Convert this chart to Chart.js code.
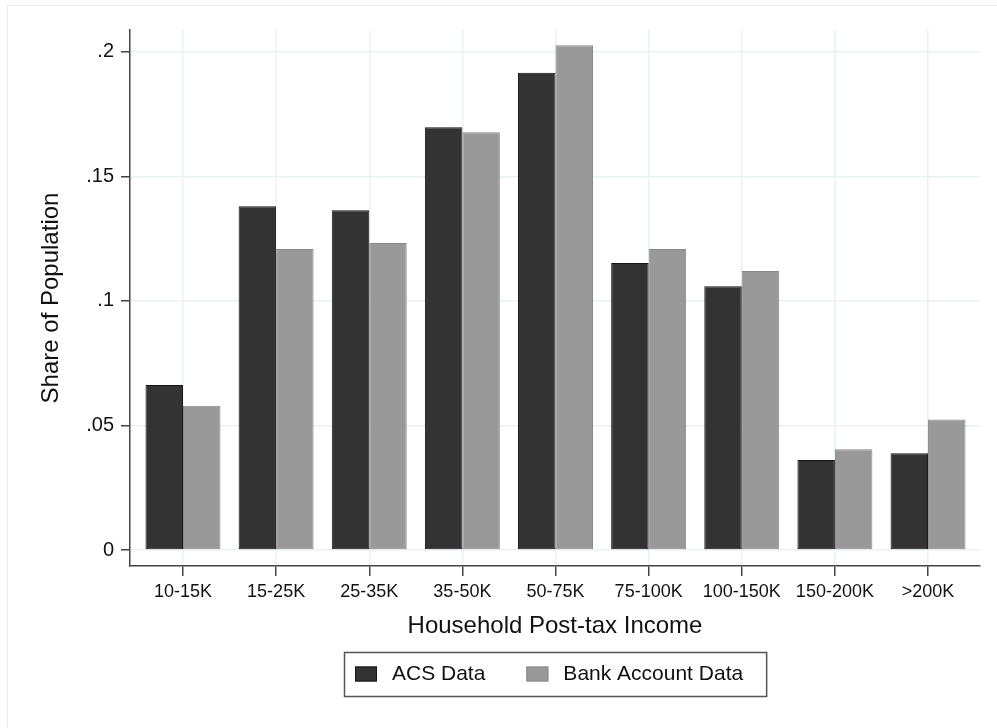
<!DOCTYPE html>
<html>
<head>
<meta charset="utf-8">
<script src="https://cdn.jsdelivr.net/npm/chart.js@4"></script>
<style>
  body { margin: 0; background: #fff; }
  canvas { display: block; }
</style>
</head>
<body>
<canvas id="myChart" width="997" height="728"></canvas>
<script>
const categories = ['10-15K', '15-25K', '25-35K', '35-50K', '50-75K', '75-100K', '100-150K', '150-200K', '>200K'];
const acsShare = [0.0662, 0.1380, 0.1364, 0.1697, 0.1915, 0.1152, 0.1059, 0.0361, 0.0388];
const bankShare = [0.0579, 0.1208, 0.1232, 0.1677, 0.2026, 0.1208, 0.1120, 0.0405, 0.0524];
const yTickValues = [0, 0.05, 0.1, 0.15, 0.2];
const yTickLabels = ['0', '.05', '.1', '.15', '.2'];
const seriesNames = ['ACS Data', 'Bank Account Data'];

const FONT = "'Liberation Sans', Arial, sans-serif";
const TEXT = '#111';
const GRID = '#e9f1f2';
const AXIS = '#444';

// white page with the faint outer frame on the left and top
const frame = {
    id: 'frame',
    beforeDraw(chart) {
        const ctx = chart.ctx;
        ctx.save();
        ctx.fillStyle = '#fff';
        ctx.fillRect(0, 0, chart.width, chart.height);
        ctx.strokeStyle = '#ececec';
        ctx.lineWidth = 1;
        ctx.beginPath();
        ctx.moveTo(7.5, chart.height);
        ctx.lineTo(7.5, 5.5);
        ctx.lineTo(chart.width, 5.5);
        ctx.stroke();
        ctx.restore();
    }
};

// boxed legend under the x axis title
const legendBox = {
    id: 'legendBox',
    afterDraw(chart) {
        const ctx = chart.ctx;
        const area = chart.chartArea;
        ctx.save();
        ctx.font = '21px ' + FONT;
        const sw = 22, sh = 15, gap = 15, itemGap = 41, padL = 11, padR = 23;
        const items = chart.data.datasets.map(ds => ({
            label: ds.label,
            color: ds.backgroundColor,
            border: ds.borderColor,
            w: ctx.measureText(ds.label).width
        }));
        let total = padL + padR;
        items.forEach((it, i) => { total += sw + gap + it.w + (i ? itemGap : 0); });
        const x0 = Math.round((area.left + area.right) / 2 - total / 2);
        const top = 652, h = 44;
        ctx.strokeStyle = '#555';
        ctx.lineWidth = 1.5;
        ctx.strokeRect(x0 + 0.5, top + 0.5, total, h);
        let x = x0 + padL;
        const cy = top + h / 2;
        items.forEach(it => {
            ctx.fillStyle = it.color;
            ctx.fillRect(x, cy - sh / 2, sw, sh);
            ctx.strokeStyle = it.border;
            ctx.lineWidth = 1;
            ctx.strokeRect(x + 0.5, cy - sh / 2 + 0.5, sw - 1, sh - 1);
            x += sw + gap;
            ctx.fillStyle = TEXT;
            ctx.textBaseline = 'middle';
            ctx.fillText(it.label, x, cy);
            x += it.w + itemGap;
        });
        ctx.restore();
    }
};

const ctx = document.getElementById('myChart');

new Chart(ctx, {
    type: 'bar',
    data: {
        datasets: [{
            label: seriesNames[0],
            data: acsShare.map((v, i) => ({ x: i, y: v })),
            backgroundColor: '#333333',
            borderColor: '#141414',
            borderWidth: 1,
            borderSkipped: false
        }, {
            label: seriesNames[1],
            data: bankShare.map((v, i) => ({ x: i, y: v })),
            backgroundColor: '#999999',
            borderColor: '#8a8a8a',
            borderWidth: 1,
            borderSkipped: false
        }]
    },
    options: {
        responsive: false,
        devicePixelRatio: 1,
        animation: false,
        categoryPercentage: 0.805,
        barPercentage: 1,
        layout: { padding: { left: 0, right: 17, top: 30, bottom: 87 } },
        plugins: {
            legend: { display: false },
            tooltip: { enabled: false }
        },
        scales: {
            x: {
                type: 'linear',
                offset: false,
                min: -0.569,
                max: 8.558,
                afterBuildTicks: s => { s.ticks = categories.map((c, i) => ({ value: i })); },
                afterFit: s => { s.height = 75; },
                ticks: {
                    callback: (v, i) => categories[i],
                    font: { family: FONT, size: 18 },
                    color: TEXT,
                    padding: 5,
                    maxRotation: 0,
                    autoSkip: false
                },
                grid: { offset: false, color: GRID, lineWidth: 1.5, tickColor: AXIS, tickLength: 10, tickWidth: 1.5 },
                border: { color: AXIS, width: 1.5 },
                title: {
                    display: true,
                    text: 'Household Post-tax Income',
                    font: { family: FONT, size: 24 },
                    color: TEXT,
                    padding: { top: 0, bottom: 0 }
                }
            },
            y: {
                min: -0.0064,
                max: 0.2087,
                afterBuildTicks: s => { s.ticks = yTickValues.map(v => ({ value: v })); },
                afterFit: s => { s.width = 130; },
                ticks: {
                    callback: (v, i) => yTickLabels[i],
                    font: { family: FONT, size: 20 },
                    color: TEXT,
                    padding: 7
                },
                grid: { color: GRID, lineWidth: 1.5, tickColor: AXIS, tickLength: 9, tickWidth: 1.5 },
                border: { color: AXIS, width: 1.5 },
                title: {
                    display: true,
                    text: 'Share of Population',
                    font: { family: FONT, size: 24 },
                    color: TEXT,
                    padding: { top: 37, bottom: 0 }
                }
            }
        }
    },
    plugins: [frame, legendBox]
});
</script>
</body>
</html>
